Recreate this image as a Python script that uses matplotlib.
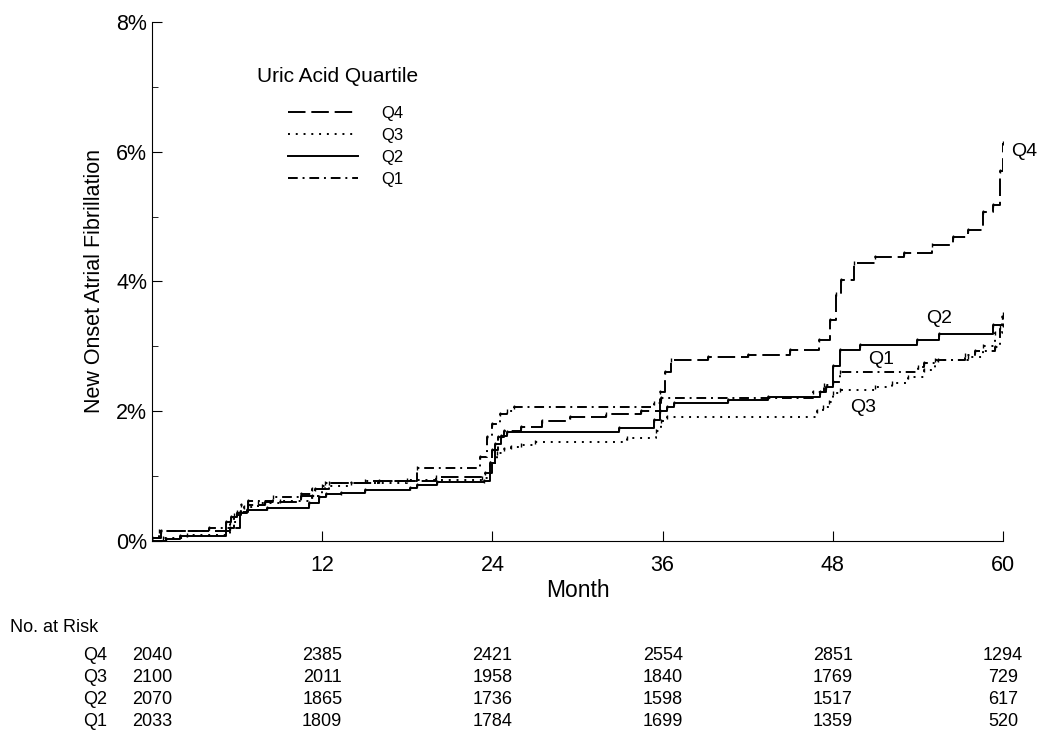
"""
Cumulative incidence of new onset atrial fibrillation by uric acid quartile
"""

import matplotlib
matplotlib.use('Agg')
import matplotlib.pyplot as plt
import matplotlib.transforms as mtransforms

plt.rcParams['font.family'] = ['Liberation Sans', 'DejaVu Sans']

# Step curves (month, cumulative %)
Q4_t = [0, 0.6, 5.5, 6.2, 6.8, 8, 10.5, 11.5, 12.5, 16,
        20, 23.5, 24.0, 24.4, 24.8, 26, 27.5, 29.5, 32, 34.5,
        35.8, 36.2, 36.6, 39.2, 42, 45, 47, 47.8, 48.2, 48.6,
        49.5, 51, 53, 55, 56.5, 57.5, 58.6, 59.3, 59.8, 60]
Q4_v = [0.05, 0.15, 0.2, 0.45, 0.55, 0.6, 0.7, 0.8, 0.9, 0.92,
        0.98, 1.05, 1.4, 1.6, 1.7, 1.75, 1.85, 1.91, 1.95, 2.0,
        2.3, 2.6, 2.79, 2.83, 2.87, 2.95, 3.1, 3.4, 3.8, 4.02,
        4.28, 4.38, 4.44, 4.56, 4.68, 4.79, 5.07, 5.18, 5.7, 6.13]

Q3_t = [0, 0.8, 2.5, 5.5, 6.0, 6.5, 7.5, 9, 11.3, 12.0,
        14, 18, 23.3, 23.8, 24.3, 24.8, 25.3, 26, 27, 33.5,
        35.5, 35.9, 36.3, 46.9, 47.3, 47.7, 48.0, 48.5, 51, 52.2,
        53.3, 54.4, 55.2, 57.5, 58.6, 59.4, 59.9, 60]
Q3_v = [0, 0.05, 0.1, 0.3, 0.45, 0.52, 0.58, 0.62, 0.7, 0.85,
        0.9, 0.94, 0.97, 1.2, 1.35, 1.42, 1.45, 1.48, 1.53, 1.59,
        1.7, 1.85, 1.91, 2.0, 2.06, 2.15, 2.28, 2.33, 2.37, 2.43,
        2.53, 2.63, 2.79, 2.83, 3.0, 3.2, 3.45, 3.5]

Q2_t = [0, 1.0, 2.0, 5.2, 5.6, 6.0, 6.7, 8.1, 11.1, 11.8,
        12.3, 13.3, 15, 18.2, 18.7, 20.1, 23.4, 23.8, 24.2, 24.6,
        25.0, 32.9, 35.4, 35.8, 36.3, 36.8, 40.6, 43.4, 47.1, 47.5,
        48.0, 48.5, 49.9, 53.9, 55.5, 59.3, 60]
Q2_v = [0, 0.03, 0.08, 0.3, 0.37, 0.43, 0.48, 0.51, 0.58, 0.68,
        0.72, 0.74, 0.79, 0.82, 0.86, 0.91, 0.93, 1.2, 1.5, 1.62,
        1.68, 1.74, 1.86, 2.0, 2.06, 2.12, 2.17, 2.22, 2.3, 2.37,
        2.7, 2.94, 3.02, 3.1, 3.19, 3.33, 3.33]

Q1_t = [0, 0.5, 4.0, 5.8, 6.3, 6.8, 8.5, 10.5, 11.3, 12.2,
        15, 18.7, 23.1, 23.6, 24.0, 24.5, 25.0, 25.5, 35.4, 35.9,
        46.6, 47.4, 48.0, 48.5, 54, 54.4, 55.4, 57.3, 58.0, 59.4,
        59.8, 60]
Q1_v = [0.05, 0.15, 0.2, 0.4, 0.55, 0.62, 0.68, 0.72, 0.8, 0.9,
        0.92, 1.12, 1.3, 1.6, 1.8, 1.95, 2.0, 2.07, 2.12, 2.2,
        2.3, 2.4, 2.45, 2.6, 2.68, 2.74, 2.79, 2.87, 2.93, 2.99,
        3.3, 3.45]

groups = ['Q4', 'Q3', 'Q2', 'Q1']
styles = [(0, (9, 3)), (0, (1, 3)), '-', (0, (5, 2.5, 1, 2.5))]

# End-of-curve labels (month, %)
end_labels = {'Q4': (61.5, 6.0), 'Q2': (55.5, 3.43), 'Q1': (51.4, 2.79), 'Q3': (50.1, 2.05)}

# Number at risk table
risk_months = [0, 12, 24, 36, 48, 60]
risk_Q4 = [2040, 2385, 2421, 2554, 2851, 1294]
risk_Q3 = [2100, 2011, 1958, 1840, 1769, 729]
risk_Q2 = [2070, 1865, 1736, 1598, 1517, 617]
risk_Q1 = [2033, 1809, 1784, 1699, 1359, 520]

fig = plt.figure(figsize=(10.39, 7.42), dpi=100)
ax = fig.add_axes([0.1463, 0.2709, 0.8191, 0.6995])

curves = [(Q4_t, Q4_v), (Q3_t, Q3_v), (Q2_t, Q2_v), (Q1_t, Q1_v)]
for name, (t, v), ls in zip(groups, curves, styles):
    ax.plot(t, v, drawstyle='steps-post', color='black', lw=1.4, linestyle=ls,
            marker='|', markersize=3.5, markeredgewidth=1, label=name)

for name, (x, y) in end_labels.items():
    ax.text(x, y, name, fontsize=14, ha='center', va='center', clip_on=False)

ax.set_xlim(0, 60)
ax.set_ylim(0, 8)
ax.set_xticks([12, 24, 36, 48, 60])
ax.set_yticks([0, 2, 4, 6, 8])
ax.set_yticklabels(['0%', '2%', '4%', '6%', '8%'])
ax.set_yticks([1, 3, 5, 7], minor=True)
ax.tick_params(axis='both', which='major', direction='in', length=7, labelsize=15.5)
ax.tick_params(axis='y', which='minor', direction='in', length=4)
ax.tick_params(axis='x', which='major', pad=10)
for side in ['top', 'right']:
    ax.spines[side].set_visible(False)
ax.set_xlabel('Month', fontsize=16.5, labelpad=2)
ax.set_ylabel('New Onset Atrial Fibrillation', fontsize=15.5, labelpad=8)

# Legend: title as free text, handles indented under it
fig.text(257 / 1039, 1 - 76 / 742, 'Uric Acid Quartile', fontsize=15, va='center')
leg = fig.legend(*ax.get_legend_handles_labels(), loc='upper left',
                 bbox_to_anchor=(288 / 1039, 1 - 106 / 742), frameon=False,
                 fontsize=12, handlelength=4.2, labelspacing=0.42,
                 handletextpad=1.4, borderpad=0, borderaxespad=0)
for line in leg.get_lines():
    line.set_marker('')

# No. at Risk table
trans = mtransforms.blended_transform_factory(ax.transData, fig.transFigure)
fig.text(0.01, 1 - 628 / 742, 'No. at Risk', fontsize=13, va='center')
rows = [risk_Q4, risk_Q3, risk_Q2, risk_Q1]
for i, (name, counts) in enumerate(zip(groups, rows)):
    y = 1 - (655 + 22 * i) / 742
    fig.text(95 / 1039, y, name, fontsize=13, ha='center', va='center')
    for m, n in zip(risk_months, counts):
        ax.text(m, y, str(n), transform=trans, fontsize=13, ha='center', va='center')

plt.savefig('out.png', dpi=100)
